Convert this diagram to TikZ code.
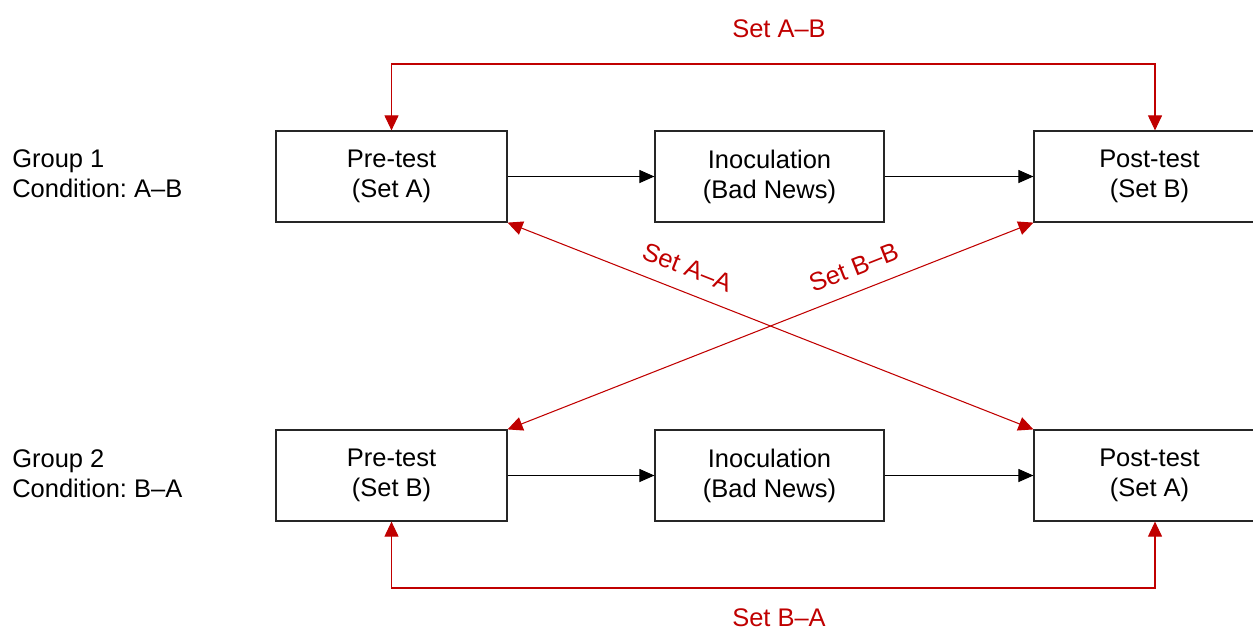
\documentclass[tikz,border=0pt]{standalone}
\usepackage{fontspec}
\setmainfont{Liberation Sans}
\usetikzlibrary{arrows.meta}
\definecolor{setred}{RGB}{192,0,0}
\frenchspacing
\begin{document}
\begin{tikzpicture}[x=0.02cm,y=-0.02cm,
  font=\fontsize{14.5pt}{17pt}\selectfont,
  stage/.style={draw=black!85, line width=0.7pt, minimum height=1.82cm,
    align=center, inner sep=0pt},
  flow/.style={draw=black, line width=0.6pt, -{Triangle[length=0.3cm,width=0.26cm]}},
  link/.style={draw=setred, line width=0.6pt,
    {Triangle[length=0.3cm,width=0.28cm]}-{Triangle[length=0.3cm,width=0.28cm]}},
  linklabel/.style={text=setred},
  grouplabel/.style={align=left, anchor=west, inner sep=0pt}]
\useasboundingbox (0,0) rectangle (1253,630);

% group 1
\node[grouplabel] (g1) at (12,174) {Group 1\\Condition: A–B};
\node[stage, minimum width=4.62cm] (pre1) at (391.5,176.5) {Pre-test\\(Set A)};
\node[stage, minimum width=4.58cm] (ino1) at (769.5,176.5) {Inoculation\\(Bad News)};
\node[stage, minimum width=4.62cm] (post1) at (1149.5,176.5) {Post-test\\(Set B)};

% group 2
\node[grouplabel] (g2) at (12,474) {Group 2\\Condition: B–A};
\node[stage, minimum width=4.62cm] (pre2) at (391.5,475.5) {Pre-test\\(Set B)};
\node[stage, minimum width=4.58cm] (ino2) at (769.5,475.5) {Inoculation\\(Bad News)};
\node[stage, minimum width=4.62cm] (post2) at (1149.5,475.5) {Post-test\\(Set A)};

% sequence within each group
\draw[flow] (pre1) -- (ino1);
\draw[flow] (ino1) -- (post1);
\draw[flow] (pre2) -- (ino2);
\draw[flow] (ino2) -- (post2);

% pairings of item sets
\coordinate (topright) at (1155,64);
\coordinate (botright) at (1155,588);
\draw[link] (pre1.north) |- (topright) -- (topright |- post1.north);
\draw[link] (pre2.south) |- (botright) -- (botright |- post2.south);
\node[linklabel] (lab) at (779,29) {Set A–B};
\node[linklabel] (lba) at (779,618) {Set B–A};

\draw[link] (pre1.south east) -- node[linklabel, pos=0.325, sloped, above=5pt] (laa) {Set A–A} (post2.north west);
\draw[link] (pre2.north east) -- node[linklabel, pos=0.675, sloped, above=5pt] (lbb) {Set B–B} (post1.south west);
\end{tikzpicture}
\end{document}
